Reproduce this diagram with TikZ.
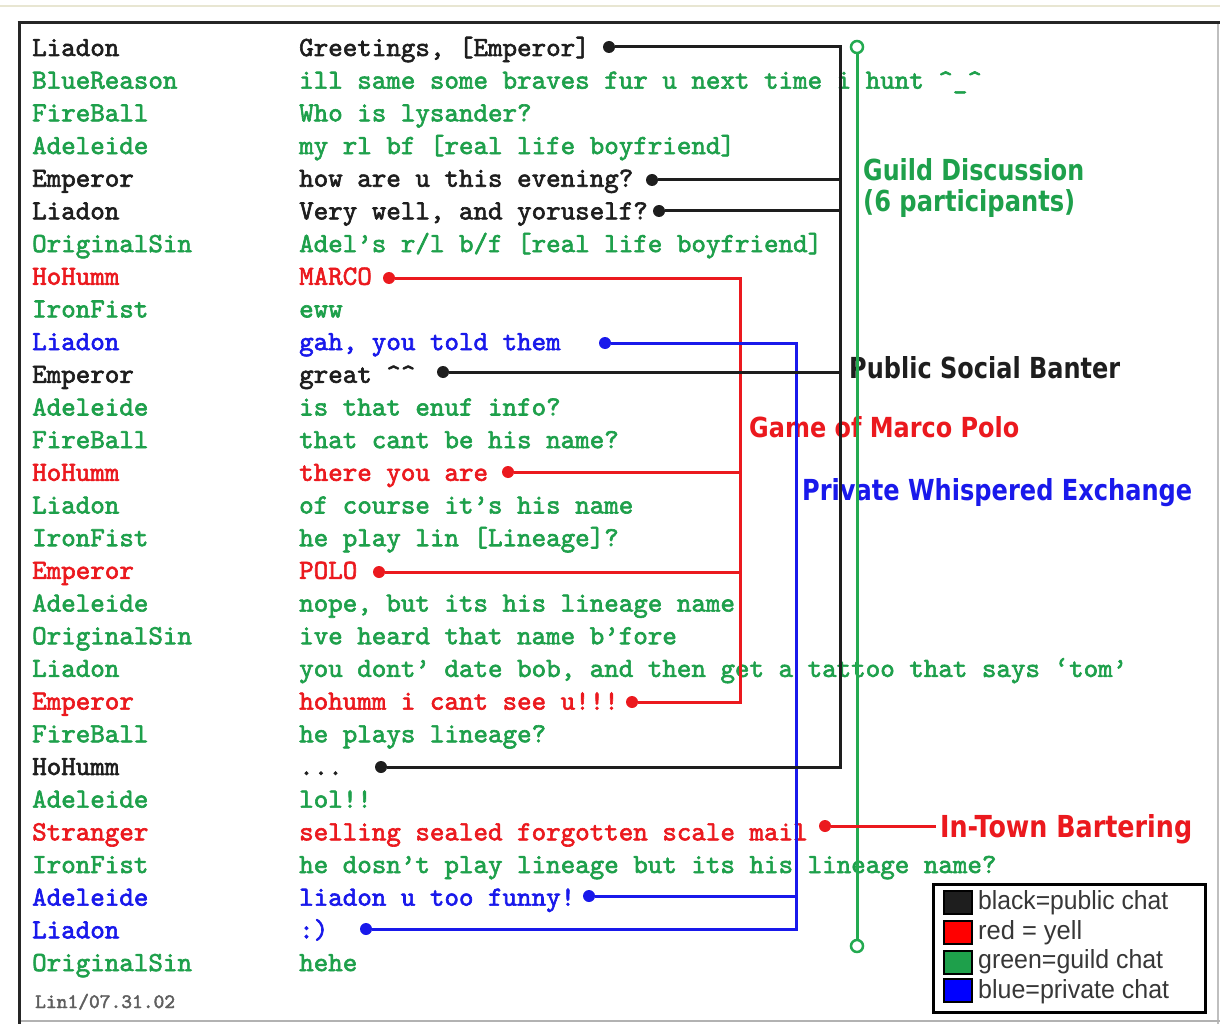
\documentclass[tikz,border=0pt]{standalone}
\usepackage{fontspec}
\usepackage{graphicx}
\newfontfamily\lblfont{DejaVu Sans}
\newfontfamily\legfont{Liberation Sans}
\newfontfamily\chatfont{lmmono10-regular.otf}[FakeBold=2.2]
\definecolor{cgreen}{RGB}{30,160,75}
\definecolor{lgreen}{RGB}{35,170,80}
\definecolor{cred}{RGB}{235,25,30}
\definecolor{cblue}{RGB}{25,25,235}
\definecolor{cblack}{RGB}{30,30,30}
\definecolor{cgray}{RGB}{95,95,95}
\definecolor{beige}{RGB}{232,230,210}
\definecolor{leggray}{RGB}{55,55,55}
\tikzset{
  chat/.style={anchor=base west, inner sep=0pt, font=\chatfont\bfseries\fontsize{27.67}{30}\selectfont},
  pub/.style={chat, text=cblack},
  grn/.style={chat, text=cgreen},
  yel/.style={chat, text=cred},
  prv/.style={chat, text=cblue},
  dotk/.style={circle, fill=cblack, inner sep=0pt, minimum size=12pt},
  dotr/.style={circle, fill=cred, inner sep=0pt, minimum size=12pt},
  dotu/.style={circle, fill=cblue, inner sep=0pt, minimum size=12pt},
  ring/.style={circle, draw=lgreen, fill=white, line width=2.5pt, inner sep=0pt, minimum size=12pt},
  kline/.style={draw=cblack, line width=3pt},
  rline/.style={draw=cred, line width=3pt},
  uline/.style={draw=cblue, line width=3pt},
  gline/.style={draw=lgreen, line width=3pt},
  lbl/.style={anchor=base west, inner sep=0pt, font=\lblfont\bfseries},
  legtxt/.style={anchor=base west, inner sep=0pt, text=leggray, font=\legfont},
  legsq/.style={draw=black, line width=2pt, minimum width=28pt, minimum height=23pt, inner sep=0pt}
}
\begin{document}
\begin{tikzpicture}[x=1pt,y=-1pt]
\useasboundingbox (0,0) rectangle (1220,1024);
\fill[white] (0,0) rectangle (1220,1024);
% frame
\draw[beige, line width=2pt] (0,6.5) -- (1220,6.5);
\draw[black!85, line width=3.5pt] (17.5,22.5) -- (1220,22.5);
\draw[black!85, line width=3.5pt] (19.5,21) -- (19.5,1024);
\draw[black!25, line width=1.5pt] (1218,24) -- (1218,1024);
\draw[black!30, line width=2pt] (21,1021) -- (1220,1021);
% names
\foreach \i/\st/\nm in {1/pub/Liadon, 2/grn/BlueReason, 3/grn/FireBall, 4/grn/Adeleide, 5/pub/Emperor, 6/pub/Liadon, 7/grn/OriginalSin, 8/yel/HoHumm, 9/grn/IronFist, 10/prv/Liadon, 11/pub/Emperor, 12/grn/Adeleide, 13/grn/FireBall, 14/yel/HoHumm, 15/grn/Liadon, 16/grn/IronFist, 17/yel/Emperor, 18/grn/Adeleide, 19/grn/OriginalSin, 20/grn/Liadon, 21/yel/Emperor, 22/grn/FireBall, 23/pub/HoHumm, 24/grn/Adeleide, 25/yel/Stranger, 26/grn/IronFist, 27/prv/Adeleide, 28/prv/Liadon, 29/grn/OriginalSin}
  \node[\st] (n\i) at (32,{56+32.68*(\i-1)}) {\nm};
% messages
\foreach \i/\st/\ms in {1/pub/{Greetings, [Emperor]},
  2/grn/{ill same some braves fur u next time i hunt \textasciicircum\_\textasciicircum},
  3/grn/{Who is lysander?},
  4/grn/{my rl bf [real life boyfriend]},
  5/pub/{how are u this evening?},
  6/pub/{Very well, and yoruself?},
  7/grn/{Adel’s r/l b/f [real life boyfriend]},
  8/yel/{MARCO},
  9/grn/{eww},
  10/prv/{gah, you told them},
  11/pub/{great \textasciicircum\textasciicircum},
  12/grn/{is that enuf info?},
  13/grn/{that cant be his name?},
  14/yel/{there you are},
  15/grn/{of course it’s his name},
  16/grn/{he play lin [Lineage]?},
  17/yel/{POLO},
  18/grn/{nope, but its his lineage name},
  19/grn/{ive heard that name b’fore},
  20/grn/{you dont’ date bob, and then get a tattoo that says ‘tom’},
  21/yel/{hohumm i cant see u!!!},
  22/grn/{he plays lineage?},
  23/pub/{...},
  24/grn/{lol!!},
  25/yel/{selling sealed forgotten scale mail},
  26/grn/{he dosn’t play lineage but its his lineage name?},
  27/prv/{liadon u too funny!},
  28/prv/{:)},
  29/grn/{hehe}}
  \node[\st] (m\i) at (299,{56+32.68*(\i-1)}) {\ms};
\node[anchor=base west, inner sep=0pt, text=cgray, font=\chatfont\bfseries\fontsize{20.5}{22}\selectfont] (foot) at (35,1008) {Lin1/07.31.02};
% labels
\node[lbl, text=cgreen] (lguild) at (863,181) {\resizebox{221pt}{22pt}{Guild Discussion}};
\node[lbl, text=cgreen] (lpart) at (863,212) {\resizebox{212pt}{22pt}{(6 participants)}};
\node[lbl, text=cblack] (lpub) at (849,378) {\resizebox{271pt}{22pt}{Public Social Banter}};
\node[lbl, text=cred] (lgame) at (749,437) {\resizebox{270pt}{21pt}{Game of Marco Polo}};
\node[lbl, text=cblue] (lpriv) at (802,500) {\resizebox{390pt}{22pt}{Private Whispered Exchange}};
\node[lbl, text=cred] (lbart) at (940,837) {\resizebox{252pt}{23pt}{In-Town Bartering}};
% coordinates of the vertical lines
\coordinate (kx) at (840,47);
\coordinate (rx) at (740,278);
\coordinate (ux) at (796,343);
% dots
\node[dotk] (d1) at (609,47) {};
\node[dotk] (d5) at (652,180) {};
\node[dotk] (d6) at (659,211) {};
\node[dotk] (d11) at (443,372) {};
\node[dotk] (d23) at (381,767) {};
\node[dotr] (r8) at (389,278) {};
\node[dotr] (r14) at (508,472) {};
\node[dotr] (r17) at (379,572) {};
\node[dotr] (r21) at (632,702) {};
\node[dotr] (r25) at (825,826) {};
\node[dotu] (b10) at (605,343) {};
\node[dotu] (b27) at (589,896) {};
\node[dotu] (b28) at (366,929) {};
% connectors
\draw[rline] (r8) -- (r8 -| rx) -- (r21 -| rx) -- (r21);
\draw[rline] (r14) -- (r14 -| rx);
\draw[rline] (r17) -- (r17 -| rx);
\draw[uline] (b10) -- (b10 -| ux) -- (b28 -| ux) -- (b28);
\draw[uline] (b27) -- (b27 -| ux);
\draw[kline] (d1) -- (d1 -| kx) -- (d23 -| kx) -- (d23);
\draw[kline] (d5) -- (d5 -| kx);
\draw[kline] (d6) -- (d6 -| kx);
\draw[kline] (d11) -- (d11 -| kx);
\node[ring] (gt) at (857,47) {};
\node[ring] (gb) at (857,946) {};
\draw[gline] (gt) -- (gb);
\draw[rline, shorten >=4pt] (r25) -- (r25 -| lbart.west);
% legend
\node[draw=black, line width=3pt, minimum width=272pt, minimum height=128pt, inner sep=0pt] (legbox) at (1069.5,948.5) {};
\node[legsq, fill=cblack] (sq1) at (958,902.5) {};
\node[legsq, fill=red] (sq2) at (958,932) {};
\node[legsq, fill=cgreen] (sq3) at (958,962) {};
\node[legsq, fill=blue] (sq4) at (958,990.5) {};
\node[legtxt] (lt1) at (978,909) {\resizebox{190pt}{19pt}{black=public chat}};
\node[legtxt] (lt2) at (978,939) {\resizebox{104pt}{19pt}{red = yell}};
\node[legtxt] (lt3) at (978,968) {\resizebox{185pt}{19pt}{green=guild chat}};
\node[legtxt] (lt4) at (978,998) {\resizebox{191pt}{19pt}{blue=private chat}};
\end{tikzpicture}
\end{document}
